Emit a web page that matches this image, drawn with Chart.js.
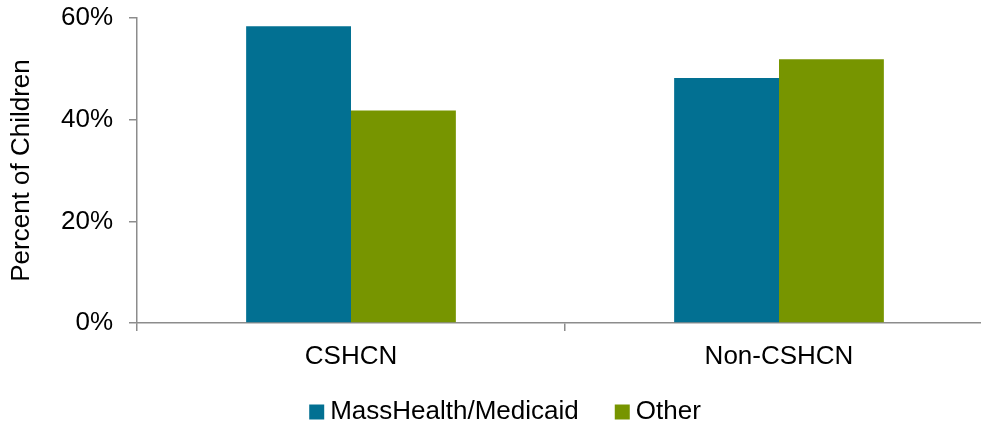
<!DOCTYPE html>
<html>
<head>
<meta charset="utf-8">
<script src="https://cdn.jsdelivr.net/npm/chart.js@4/dist/chart.umd.min.js"></script>
<style>
html,body{margin:0;padding:0;background:#fff;overflow:hidden;width:981px;height:425px;}
#wrap{position:relative;width:1008px;height:425px;}
</style>
</head>
<body>
<div id="wrap"><canvas id="c" width="1008" height="425"></canvas></div>
<script>
const categories = ["CSHCN", "Non-CSHCN"];
const seriesNames = ["MassHealth/Medicaid", "Other"];
const massHealth = [58.4, 48.2];
const other = [41.8, 51.9];
const yTicks = [0, 20, 40, 60];

const axisGrey = "#8c8c8c";
const font = "'Liberation Sans', Arial, sans-serif";

const legendShift = {
  id: "legendShift",
  afterLayout(chart) {
    const lg = chart.legend;
    if (lg) { lg.top -= 17; lg.left += 12; lg.right += 12; }
  }
};

new Chart(document.getElementById("c"), {
  type: "bar",
  data: {
    labels: categories,
    datasets: [
      { label: seriesNames[0], data: massHealth, backgroundColor: "#027092" },
      { label: seriesNames[1], data: other, backgroundColor: "#779500" }
    ]
  },
  plugins: [legendShift],
  options: {
    responsive: false,
    animation: false,
    devicePixelRatio: 1,
    layout: { padding: { top: 18, right: 15, left: 0, bottom: 0 } },
    datasets: { bar: { barPercentage: 1, categoryPercentage: 0.49 } },
    plugins: {
      tooltip: { enabled: false },
      legend: {
        position: "bottom",
        maxHeight: 52,
        labels: {
          font: { family: font, size: 26 },
          color: "#000",
          usePointStyle: true,
          pointStyle: "rect",
          boxWidth: 1,
          boxHeight: 15,
          padding: 43
        }
      }
    },
    scales: {
      x: {
        grid: { display: true, drawOnChartArea: false, drawTicks: true, tickLength: 8, color: axisGrey, lineWidth: 1.5, offset: true },
        border: { display: true, color: axisGrey, width: 1.5 },
        ticks: { font: { family: font, size: 26 }, color: "#000", padding: 10 },
        afterFit: (s) => { s.height = 50; }
      },
      y: {
        min: 0, max: 60,
        afterBuildTicks: (s) => { s.ticks = yTicks.map(v => ({ value: v })); },
        grid: { display: true, drawOnChartArea: false, drawTicks: true, tickLength: 8, color: axisGrey, lineWidth: 1.5 },
        border: { display: true, color: axisGrey, width: 1.5 },
        ticks: { font: { family: font, size: 26 }, color: "#000", padding: 16, callback: (v) => v + "%" },
        title: { display: true, text: "Percent of Children", font: { family: font, size: 26 }, color: "#000", padding: { top: 6, bottom: 0 } },
        afterFit: (s) => { s.width = 137; s.paddingTop = 0; s.paddingBottom = 0; }
      }
    }
  }
});
</script>
</body>
</html>
